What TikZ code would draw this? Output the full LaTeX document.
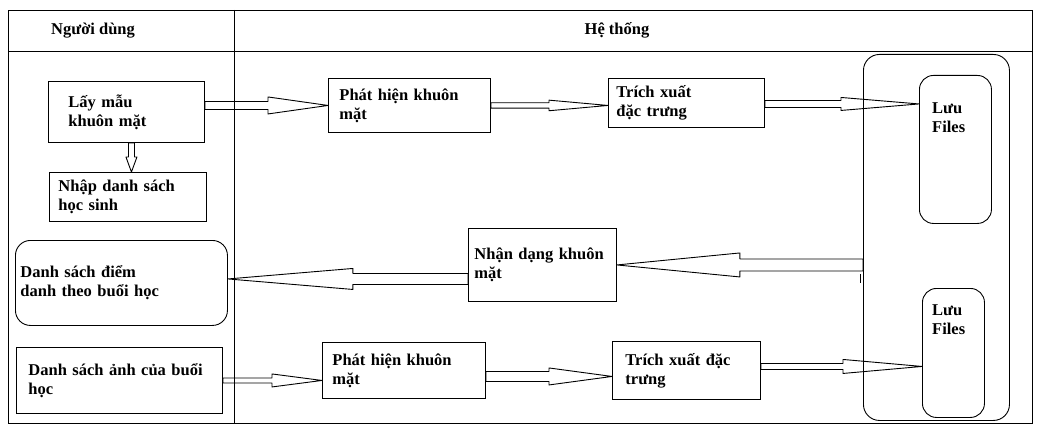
\documentclass[tikz,border=0pt]{standalone}
\usepackage{fontspec}
\setmainfont{Liberation Serif}
\usepackage{tikz}
\usetikzlibrary{calc}

% hollow block arrow: from, to, head length, shaft half width, head half width
\newcommand{\hollowarrow}[5]{%
  \coordinate (ha-s) at (#1);
  \coordinate (ha-t) at (#2);
  \coordinate (ha-h) at ($(ha-t)!#3!(ha-s)$);
  \draw[arrowline] ($(ha-s)!#4!90:(ha-t)$) -- ($(ha-h)!#4!90:(ha-t)$)
    -- ($(ha-h)!#5!90:(ha-t)$) -- (ha-t) -- ($(ha-h)!#5!-90:(ha-t)$)
    -- ($(ha-h)!#4!-90:(ha-t)$) -- ($(ha-s)!#4!-90:(ha-t)$) -- cycle;
}

\begin{document}
\begin{tikzpicture}[x=1pt, y=-1pt,
  every node/.style={font=\bfseries\fontsize{16.5}{19}\selectfont},
  box/.style={draw, line width=0.9pt, anchor=north west, align=left, inner sep=0pt},
  roundbox/.style={box, rounded corners=15pt},
  arrowline/.style={draw, line width=0.9pt, line join=round}]
  \useasboundingbox (0,0) rectangle (1050,436);

  % table frame
  \draw[line width=0.9pt] (8,10) rectangle (1032,423);
  \draw[line width=0.9pt] (8,51) -- (1032,51);
  \draw[line width=0.9pt] (234,10) -- (234,423);
  \node[anchor=base west, inner sep=0pt] (user) at (51,35) {Người dùng};
  \node[anchor=base, inner sep=0pt] (system) at (617,35) {Hệ thống};

  % user column
  \node[box, minimum width=156, minimum height=61, text width=116] (lay) at (48,81) {Lấy mẫu\\khuôn mặt};
  \node[box, minimum width=157, minimum height=49, text width=139] (nhap) at (49,172) {Nhập danh sách\\học sinh};
  \node[roundbox, minimum width=212, minimum height=85, text width=202] (dsd) at (15,240) {Danh sách điểm\\danh theo buổi học};
  \node[box, minimum width=206, minimum height=66, text width=182] (dsa) at (16,347) {Danh sách ảnh của buổi\\học};

  % system column
  \node[box, minimum width=162, minimum height=54, text width=140] (ph1) at (328,78) {Phát hiện khuôn\\mặt};
  \node[box, minimum width=156, minimum height=49, text width=140] (tx1) at (608,78) {Trích xuất\\đặc trưng};
  \node[box, minimum width=148, minimum height=73, text width=136] (nd) at (468,228) {Nhận dạng khuôn\\mặt};
  \node[box, minimum width=163, minimum height=56, text width=143] (ph2) at (322,342) {Phát hiện khuôn\\mặt};
  \node[box, minimum width=148, minimum height=58, text width=122] (tx2) at (612,341) {Trích xuất đặc\\trưng};

  % storage
  \node[roundbox, rounded corners=16pt, minimum width=146, minimum height=366] (store) at (863,54) {};
  \node[roundbox, rounded corners=14pt, minimum width=72, minimum height=148] (lf1) at (919,75) {};
  \node[anchor=north west, align=left, inner sep=0pt] (lf1t) at ([shift={(13,27)}]lf1.north west) {Lưu\\Files};
  \node[roundbox, rounded corners=14pt, minimum width=62, minimum height=129] (lf2) at (922,288) {};
  \node[anchor=north west, align=left, inner sep=0pt] (lf2t) at ([shift={(10,16)}]lf2.north west) {Lưu\\Files};

  % arrows
  \hollowarrow{$(lay.south)+(5,0)$}{$(nhap.north -| lay.south)+(5,0)$}{15pt}{3pt}{5.5pt}
  \hollowarrow{lay.east |- ph1.west}{ph1.west}{60pt}{4pt}{8.5pt}
  \hollowarrow{ph1.east}{ph1.east -| tx1.west}{59pt}{2.7pt}{5.3pt}
  \hollowarrow{$(tx1.east)+(0,1)$}{$(tx1.east -| lf1.west)+(0,1)$}{78pt}{3.5pt}{6.5pt}
  \hollowarrow{nd.east -| store.west}{nd.east}{123pt}{6pt}{12pt}
  \hollowarrow{$(nd.west |- dsd.east)+(0,-4)$}{$(dsd.east)+(0,-4)$}{125pt}{5.5pt}{10.5pt}
  \hollowarrow{dsa.east}{dsa.east -| ph2.west}{50pt}{2.5pt}{6.5pt}
  \hollowarrow{$(ph2.east)+(0,6)$}{$(ph2.east -| tx2.west)+(0,6)$}{63pt}{5pt}{8.5pt}
  \hollowarrow{$(tx2.east)+(0,-4)$}{$(tx2.east -| lf2.west)+(0,-4)$}{79pt}{3pt}{7pt}
  \draw[line width=0.9pt] ($(nd.east -| store.west)+(-3,9)$) -- ++(0,9);
\end{tikzpicture}
\end{document}
